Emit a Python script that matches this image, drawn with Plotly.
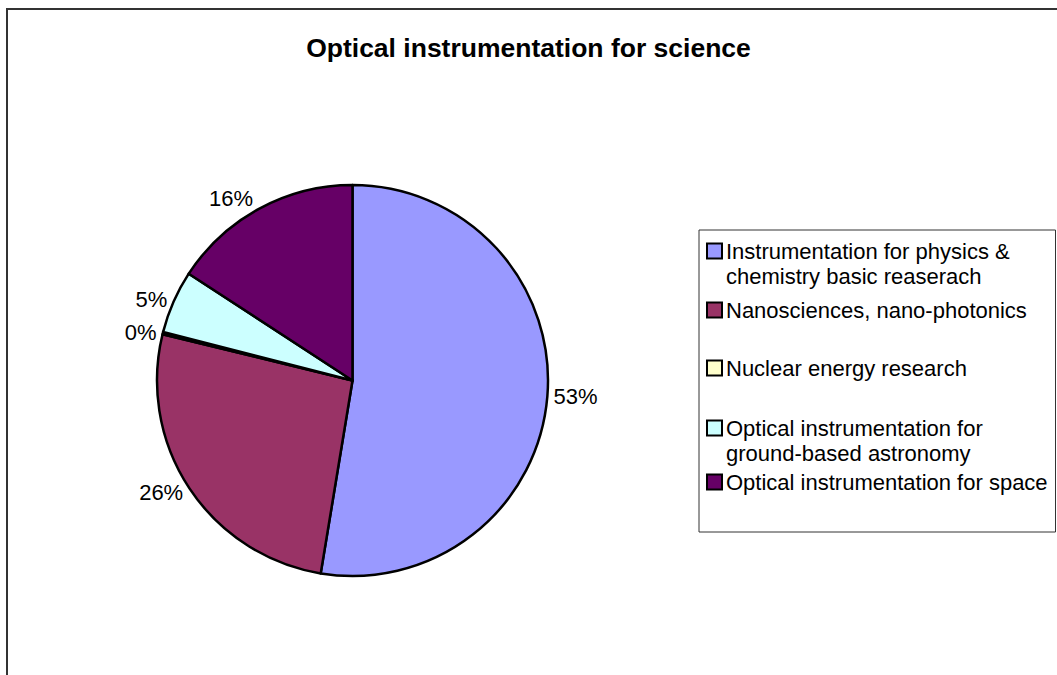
import plotly.graph_objects as go

# ---- data ----
categories = [
    "Instrumentation for physics &<br>chemistry basic reaserach",
    "Nanosciences, nano-photonics",
    "Nuclear energy research",
    "Optical instrumentation for<br>ground-based astronomy",
    "Optical instrumentation for space",
]
shares = [52.6, 26.2, 0.2, 5.2, 15.8]
colors = ["#9999FF", "#993366", "#FFFFCC", "#CCFFFF", "#660066"]
title_text = "Optical instrumentation for science"

W, H = 1057, 675
FONT = "Liberation Sans, Arial, sans-serif"

def px(x):
    return x / W

def py(y):
    return 1 - y / H

fig = go.Figure()
fig.add_trace(go.Pie(
    labels=[c.replace("<br>", " ") for c in categories],
    values=shares,
    sort=False,
    direction="clockwise",
    rotation=0,
    marker=dict(colors=colors, line=dict(color="black", width=2.5)),
    texttemplate="%{percent:.0%}",
    textposition="outside",
    textfont=dict(family=FONT, size=22, color="black"),
    domain=dict(x=[px(157), px(548)], y=[py(576), py(185)]),
    showlegend=False,
    hoverinfo="label+percent",
))

shapes = []
annotations = []
# outer chart border (cropped at right and bottom)
shapes.append(dict(type="rect", xref="paper", yref="paper",
                   x0=px(7), y0=py(9), x1=1.02, y1=-0.02,
                   line=dict(color="#333333", width=2), fillcolor="rgba(0,0,0,0)"))
# legend box
shapes.append(dict(type="rect", xref="paper", yref="paper",
                   x0=px(699), y0=py(230), x1=px(1055.5), y1=py(532),
                   line=dict(color="#333333", width=1), fillcolor="white"))
legend_row_y = [251, 310, 368, 428, 482]
LINE_STEP = 25
for cat, col, yy in zip(categories, colors, legend_row_y):
    shapes.append(dict(type="rect", xref="paper", yref="paper",
                       x0=px(707), y0=py(yy - 7.5), x1=px(722), y1=py(yy + 7.5),
                       line=dict(color="black", width=2), fillcolor=col))
    for k, line in enumerate(cat.split("<br>")):
        annotations.append(dict(xref="paper", yref="paper", x=px(724),
                                y=py(yy + k * LINE_STEP),
                                xanchor="left", yanchor="middle", align="left",
                                text=line, showarrow=False,
                                font=dict(family=FONT, size=22, color="black")))

fig.update_layout(
    width=W, height=H,
    margin=dict(l=0, r=0, t=0, b=0),
    paper_bgcolor="white",
    plot_bgcolor="white",
    title=dict(text="<b>" + title_text + "</b>", x=0.5, xanchor="center",
               y=py(48), yanchor="middle",
               font=dict(family=FONT, size=26.5, color="black")),
    shapes=shapes,
    annotations=annotations,
)

fig.write_html("out.html",
               config={"displayModeBar": False},
               post_script="document.body.style.margin='0';document.body.style.overflow='hidden';")
